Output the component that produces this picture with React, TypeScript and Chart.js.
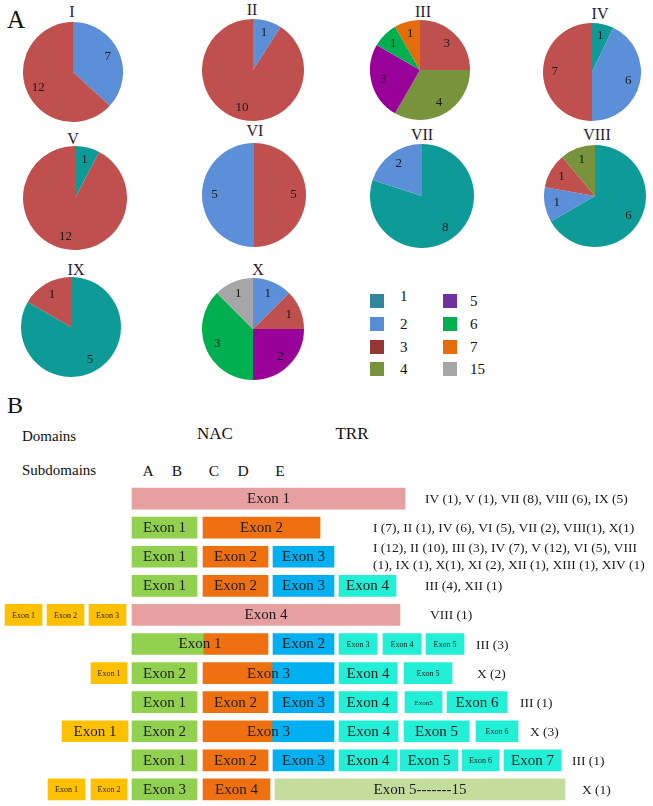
import React, { useEffect, useRef } from 'react';
import { Chart, registerables } from 'chart.js';

Chart.register(...registerables);

const SERIF = '"Liberation Serif", "Times New Roman", serif';

// ---------------- Panel A data ----------------
const pieTitles = ['I', 'II', 'III', 'IV', 'V', 'VI', 'VII', 'VIII', 'IX', 'X'];
const pieValues: number[][] = [
  [7, 12],
  [1, 10],
  [3, 4, 3, 1, 1],
  [1, 6, 7],
  [1, 12],
  [5, 5],
  [8, 2],
  [6, 1, 1, 1],
  [5, 1],
  [1, 1, 2, 3, 1],
];
const pieCategories: string[][] = [
  ['2', '3'],
  ['2', '3'],
  ['3', '4', '5', '6', '7'],
  ['1', '2', '3'],
  ['1', '3'],
  ['3', '2'],
  ['1', '2'],
  ['1', '2', '3', '4'],
  ['1', '3'],
  ['2', '3', '5', '6', '15'],
];
const legendColumns: string[][] = [
  ['1', '2', '3', '4'],
  ['5', '6', '7', '15'],
];

// ---------------- Panel B data ----------------
const rowNames = ['r1', 'r2', 'r3', 'r4', 'r5', 'r6', 'r7', 'r8', 'r9', 'r10', 'r11'];
// [row, start, end, type, label, labelSize('L' | 'S' | 'XS' | '')]
const exonBoxes: [number, number, number, string, string, string][] = [
  [0, 132, 405, 'pink', 'Exon 1', 'L'],
  [1, 132, 197, 'green', 'Exon 1', 'L'],
  [1, 203, 320, 'orange', 'Exon 2', 'L'],
  [2, 132, 197, 'green', 'Exon 1', 'L'],
  [2, 203, 268, 'orange', 'Exon 2', 'L'],
  [2, 273, 334, 'blue', 'Exon 3', 'L'],
  [3, 132, 197, 'green', 'Exon 1', 'L'],
  [3, 203, 268, 'orange', 'Exon 2', 'L'],
  [3, 273, 334, 'blue', 'Exon 3', 'L'],
  [3, 339, 396, 'cyan', 'Exon 4', 'L'],
  [4, 5, 42, 'yellow', 'Exon 1', 'S'],
  [4, 47, 84, 'yellow', 'Exon 2', 'S'],
  [4, 89, 126, 'yellow', 'Exon 3', 'S'],
  [4, 132, 400, 'pink', 'Exon 4', 'L'],
  [5, 132, 203, 'green', '', ''],
  [5, 203, 268, 'orange', '', ''],
  [5, 273, 334, 'blue', 'Exon 2', 'L'],
  [5, 339, 377, 'cyan', 'Exon 3', 'S'],
  [5, 383, 421, 'cyan', 'Exon 4', 'S'],
  [5, 426, 464, 'cyan', 'Exon 5', 'S'],
  [6, 91, 127, 'yellow', 'Exon 1', 'S'],
  [6, 132, 197, 'green', 'Exon 2', 'L'],
  [6, 203, 272, 'orange', '', ''],
  [6, 272, 334, 'blue', '', ''],
  [6, 339, 397, 'cyan', 'Exon 4', 'L'],
  [6, 404, 452, 'cyan', 'Exon 5', 'S'],
  [7, 132, 197, 'green', 'Exon 1', 'L'],
  [7, 203, 268, 'orange', 'Exon 2', 'L'],
  [7, 273, 334, 'blue', 'Exon 3', 'L'],
  [7, 339, 397, 'cyan', 'Exon 4', 'L'],
  [7, 405, 442, 'cyan', 'Exon5', 'XS'],
  [7, 447, 507, 'cyan', 'Exon 6', 'L'],
  [8, 62, 128, 'yellow', 'Exon 1', 'L'],
  [8, 132, 197, 'green', 'Exon 2', 'L'],
  [8, 203, 272, 'orange', '', ''],
  [8, 272, 334, 'blue', '', ''],
  [8, 339, 398, 'cyan', 'Exon 4', 'L'],
  [8, 404, 469, 'cyan', 'Exon 5', 'L'],
  [8, 476, 518, 'cyan', 'Exon 6', 'S'],
  [9, 132, 197, 'green', 'Exon 1', 'L'],
  [9, 203, 268, 'orange', 'Exon 2', 'L'],
  [9, 273, 334, 'blue', 'Exon 3', 'L'],
  [9, 339, 397, 'cyan', 'Exon 4', 'L'],
  [9, 400, 458, 'cyan', 'Exon 5', 'L'],
  [9, 462, 499, 'cyan', 'Exon 6', 'S'],
  [9, 504, 561, 'cyan', 'Exon 7', 'L'],
  [10, 48, 85, 'yellow', 'Exon 1', 'S'],
  [10, 91, 127, 'yellow', 'Exon 2', 'S'],
  [10, 132, 197, 'green', 'Exon 3', 'L'],
  [10, 203, 270, 'orange', 'Exon 4', 'L'],
  [10, 275, 565, 'sage', 'Exon 5-------15', 'L'],
];
// labels that span two fused boxes: [row, start, end, label]
const spanLabels: [number, number, number, string][] = [
  [5, 132, 268, 'Exon 1'],
  [6, 203, 334, 'Exon 3'],
  [8, 203, 334, 'Exon 3'],
];
// [row, left, lines]
const rowNotes: [number, number, string[]][] = [
  [0, 425, ['IV (1), V (1), VII (8), VIII (6), IX (5)']],
  [1, 373, ['I (7), II (1), IV (6), VI (5), VII (2), VIII(1), X(1)']],
  [2, 373, ['I (12), II (10), III (3), IV (7), V (12), VI (5), VIII', '(1), IX (1), X(1), XI (2), XII (1), XIII (1), XIV (1)']],
  [3, 425, ['III (4), XII (1)']],
  [4, 430, ['VIII (1)']],
  [5, 476, ['III (3)']],
  [6, 477, ['X (2)']],
  [7, 520, ['III (1)']],
  [8, 530, ['X (3)']],
  [9, 572, ['III (1)']],
  [10, 582, ['X (1)']],
];
const subdomainLetters = ['A', 'B', 'C', 'D', 'E'];

// ---------------- Styles / layout ----------------
const pieColors: Record<string, string> = {
  '1': '#0e9a97', '2': '#5b8fd7', '3': '#c0504d', '4': '#77933c',
  '5': '#990099', '6': '#00b050', '7': '#e46c0a', '15': '#a6a6a6',
};
const legendColors: Record<string, string> = {
  '1': '#31859c', '2': '#558ed5', '3': '#953735', '4': '#77933c',
  '5': '#7030a0', '6': '#00b050', '7': '#e46c0a', '15': '#a6a6a6',
};
const boxColors: Record<string, string> = {
  pink: '#e6a0a0', green: '#92d050', orange: '#ee7011', blue: '#00b0f0',
  cyan: '#22efd6', yellow: '#ffc000', sage: '#c4dd9d',
};
const labelSizes: Record<string, number> = { L: 15, S: 8, XS: 7 };
const pieLayout = [
  { cx: 73, cy: 72, r: 50, tx: 72, ty: 12 },
  { cx: 253, cy: 70, r: 51, tx: 252, ty: 10 },
  { cx: 420, cy: 70, r: 50, tx: 423, ty: 12 },
  { cx: 592, cy: 72, r: 49, tx: 600, ty: 14 },
  { cx: 75, cy: 198, r: 52, tx: 73, ty: 139 },
  { cx: 254, cy: 195, r: 52, tx: 255, ty: 131 },
  { cx: 422, cy: 196, r: 52, tx: 422, ty: 135 },
  { cx: 595, cy: 196, r: 51, tx: 597, ty: 135 },
  { cx: 71, cy: 327, r: 50, tx: 76, ty: 270 },
  { cx: 253, cy: 329, r: 51, tx: 258, ty: 270 },
];

const pieLabelPlugin = {
  id: 'pieLabels',
  afterDatasetsDraw(chart: any) {
    const ctx = chart.ctx;
    const meta = chart.getDatasetMeta(0);
    const values = chart.data.datasets[0].data;
    ctx.save();
    ctx.font = `13px ${SERIF}`;
    ctx.fillStyle = '#1a1a1a';
    ctx.textAlign = 'center';
    ctx.textBaseline = 'middle';
    meta.data.forEach((arc: any, i: number) => {
      const p = arc.getProps(['x', 'y', 'startAngle', 'endAngle', 'outerRadius'], true);
      const mid = (p.startAngle + p.endAngle) / 2;
      const rr = p.outerRadius * 0.76;
      ctx.fillText(String(values[i]), p.x + Math.cos(mid) * rr, p.y + Math.sin(mid) * rr);
    });
    ctx.restore();
  },
};

function PieChart({ index }: { index: number }) {
  const ref = useRef<HTMLCanvasElement | null>(null);
  const L = pieLayout[index];
  useEffect(() => {
    const cats = pieCategories[index];
    const chart = new Chart(ref.current as HTMLCanvasElement, {
      type: 'pie',
      data: {
        labels: cats,
        datasets: [{
          data: pieValues[index],
          backgroundColor: cats.map((c) => pieColors[c]),
          borderWidth: 0,
        }],
      },
      options: {
        responsive: false,
        animation: false,
        events: [],
        layout: { padding: 0 },
        plugins: { legend: { display: false }, tooltip: { enabled: false }, title: { display: false } },
      },
      plugins: [pieLabelPlugin],
    } as any);
    return () => chart.destroy();
  }, [index]);
  return (
    <canvas
      ref={ref}
      width={L.r * 2}
      height={L.r * 2}
      style={{ position: 'absolute', left: L.cx - L.r, top: L.cy - L.r, width: L.r * 2, height: L.r * 2 }}
    />
  );
}

const exonTextPlugin = {
  id: 'exonText',
  afterDatasetsDraw(chart: any) {
    const ctx = chart.ctx;
    const xs = chart.scales.x;
    const ys = chart.scales.y;
    ctx.save();
    ctx.textBaseline = 'middle';
    ctx.textAlign = 'center';
    ctx.fillStyle = '#1c1c1c';
    exonBoxes.forEach(([row, s, e, , label, size]) => {
      if (!label) return;
      ctx.font = `${labelSizes[size]}px ${SERIF}`;
      ctx.fillText(label, (xs.getPixelForValue(s) + xs.getPixelForValue(e)) / 2, ys.getPixelForValue(row) + 0.5);
    });
    spanLabels.forEach(([row, s, e, label]) => {
      ctx.font = `15px ${SERIF}`;
      ctx.fillText(label, (xs.getPixelForValue(s) + xs.getPixelForValue(e)) / 2, ys.getPixelForValue(row) + 0.5);
    });
    ctx.textAlign = 'left';
    ctx.font = `13.5px ${SERIF}`;
    ctx.fillStyle = '#1a1a1a';
    rowNotes.forEach(([row, x, lines]) => {
      const yc = ys.getPixelForValue(row);
      const n = lines.length;
      lines.forEach((line, i) => {
        const dy = n === 1 ? 1 : (i - (n - 1) / 2) * 16.5;
        ctx.fillText(line, xs.getPixelForValue(x), yc + dy);
      });
    });
    ctx.restore();
  },
};

function ExonChart() {
  const ref = useRef<HTMLCanvasElement | null>(null);
  useEffect(() => {
    const types = ['pink', 'green', 'orange', 'blue', 'cyan', 'yellow', 'sage'];
    const chart = new Chart(ref.current as HTMLCanvasElement, {
      type: 'bar',
      data: {
        labels: rowNames,
        datasets: types.map((t) => ({
          label: t,
          data: exonBoxes
            .filter((b) => b[3] === t)
            .map((b) => ({ x: [b[1], b[2]], y: rowNames[b[0]] })),
          backgroundColor: boxColors[t],
          borderWidth: 0,
          borderSkipped: false,
          grouped: false,
          barThickness: 21,
        })),
      },
      options: {
        indexAxis: 'y',
        responsive: false,
        animation: false,
        events: [],
        layout: { padding: 0 },
        scales: {
          x: { type: 'linear', min: 0, max: 653, display: false },
          y: { type: 'category', display: false, offset: true },
        },
        plugins: { legend: { display: false }, tooltip: { enabled: false } },
      },
      plugins: [exonTextPlugin],
    } as any);
    return () => chart.destroy();
  }, []);
  return (
    <canvas
      ref={ref}
      width={653}
      height={320}
      style={{ position: 'absolute', left: 0, top: 484, width: 653, height: 320 }}
    />
  );
}

function Txt({ x, y, size, children, align = 'center', color = '#111' }: any) {
  return (
    <div
      style={{
        position: 'absolute',
        left: x,
        top: y,
        transform: `translate(${align === 'center' ? '-50%' : '0'}, -50%)`,
        fontFamily: SERIF,
        fontSize: size,
        lineHeight: 1,
        whiteSpace: 'nowrap',
        color,
      }}
    >
      {children}
    </div>
  );
}

const legendLayout = { colX: [370, 443], labelX: [400, 470], rowY: [301, 324, 347, 369] };
const subdomainX = [148, 177, 214, 243, 280];

export default function App() {
  return (
    <div style={{ position: 'absolute', left: 0, top: 0, width: 653, height: 806, background: '#fff', overflow: 'hidden' }}>
      <Txt x={7} y={19} size={25} align="left">A</Txt>
      {pieTitles.map((t, i) => (
        <Txt key={'t' + i} x={pieLayout[i].tx} y={pieLayout[i].ty} size={16} color="#2b2035">{t}</Txt>
      ))}
      {pieTitles.map((_, i) => (
        <PieChart key={'p' + i} index={i} />
      ))}
      {legendColumns.map((col, ci) =>
        col.map((c, ri) => (
          <React.Fragment key={'lg' + c}>
            <div
              style={{
                position: 'absolute',
                left: legendLayout.colX[ci],
                top: legendLayout.rowY[ri] - 7,
                width: 14,
                height: 14,
                background: legendColors[c],
              }}
            />
            <Txt x={legendLayout.labelX[ci]} y={legendLayout.rowY[ri] - (c === '1' ? 5 : 0)} size={15} align="left">{c}</Txt>
          </React.Fragment>
        ))
      )}
      <Txt x={7} y={405} size={24} align="left">B</Txt>
      <Txt x={22} y={436} size={15} align="left">Domains</Txt>
      <Txt x={215} y={433} size={17}>NAC</Txt>
      <Txt x={352} y={433} size={17}>TRR</Txt>
      <Txt x={22} y={470} size={15} align="left">Subdomains</Txt>
      {subdomainLetters.map((l, i) => (
        <Txt key={'sd' + l} x={subdomainX[i]} y={471} size={15.5}>{l}</Txt>
      ))}
      <ExonChart />
    </div>
  );
}
